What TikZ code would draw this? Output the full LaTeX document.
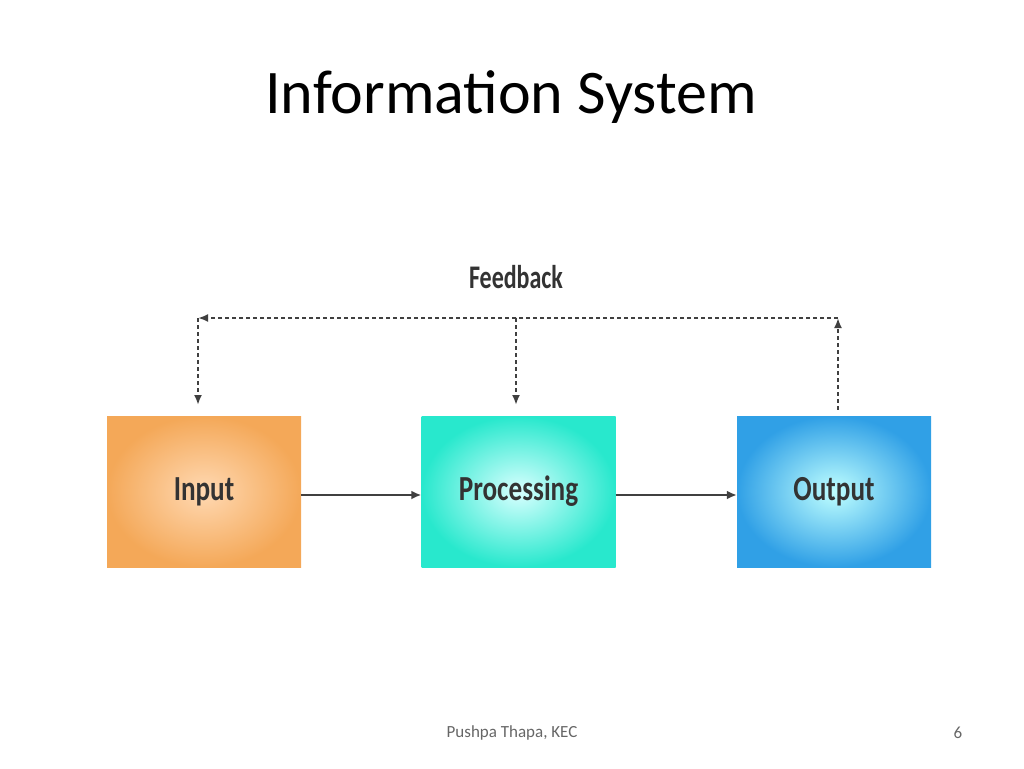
\documentclass[tikz,border=0pt]{standalone}
\usepackage{fontspec}
\setmainfont{Carlito}
\usetikzlibrary{arrows.meta}
\begin{document}
\begin{tikzpicture}[x=1pt,y=-1pt,
  box/.style={minimum width=194pt,minimum height=151pt,inner sep=0pt,font=\fontsize{32}{34}\selectfont\bfseries,text=black!80},
  fb/.style={dashed,dash pattern=on 4pt off 3pt,line width=2.5pt,black!75,-{Latex[length=10pt,width=8pt]}},
  flow/.style={line width=2.5pt,black!75,-{Latex[length=10pt,width=9pt]}}]
\useasboundingbox (0,0) rectangle (1024,768);
\node (title) at (511,97) {\fontsize{62}{68}\selectfont Information System};
\node (foot) at (512,733) {\fontsize{17}{19}\selectfont\color{black!60}Pushpa Thapa, KEC};
\node (pg) at (958,733) {\fontsize{17}{19}\selectfont\color{black!60}6};
\node[box,inner color=orange!30!white,outer color={rgb,255:red,244;green,168;blue,88}] (in) at (204,491.5) {\scalebox{0.85}[1.1]{Input}};
\node[box,inner color=cyan!15!white,outer color={rgb,255:red,40;green,232;blue,205}] (pr) at (518.5,491.5) {\scalebox{0.85}[1.1]{Processing}};
\node[box,inner color=cyan!25!white,outer color={rgb,255:red,48;green,160;blue,230}] (out) at (834,491.5) {\scalebox{0.85}[1.1]{Output}};
\node (fbl) at (516,277) {\fontsize{30}{32}\selectfont\bfseries\color{black!80}\scalebox{0.8}[1.1]{Feedback}};
\coordinate (tl) at (198,318);
\coordinate (tm) at (516,318);
\coordinate (tr) at (838,318);
\draw[flow] (in.east|-0,495) -- (pr.west|-0,495);
\draw[flow] (pr.east|-0,495) -- (out.west|-0,495);
\draw[dashed,dash pattern=on 4pt off 3pt,line width=2.5pt,black!75] (tr) -- (tm);
\draw[fb] (tm) -- (tl);
\draw[fb] (tl) -- (198,405);
\draw[fb] (tm) -- (516,405);
\draw[fb] (out.north-|tr) ++(0,-6) -- (tr);
\end{tikzpicture}
\end{document}
